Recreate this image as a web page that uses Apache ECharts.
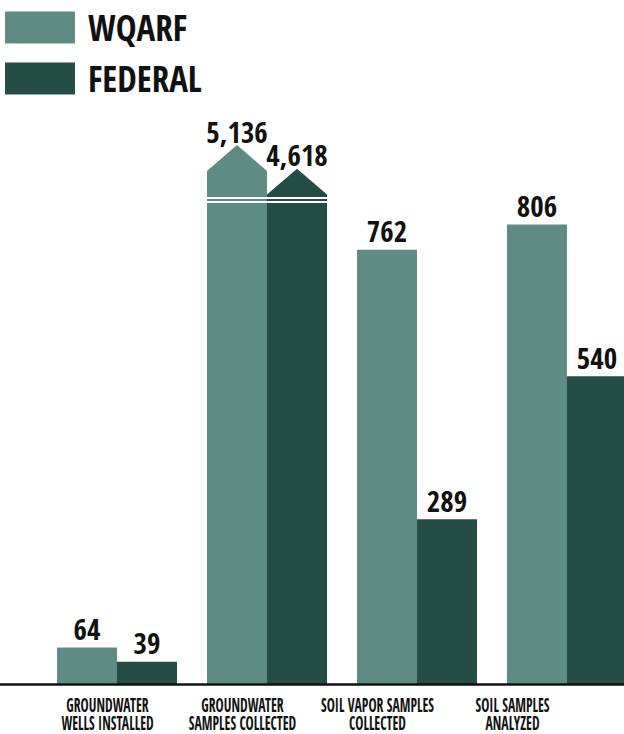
<!DOCTYPE html>
<html><head><meta charset="utf-8">
<script src="https://cdn.jsdelivr.net/npm/echarts@6/dist/echarts.min.js"></script>
<style>html,body{margin:0;padding:0;background:#fff}#chart{width:624px;height:734px}</style>
</head><body>
<div id="chart"></div>
<script>
// ---- data ----
const categories = [
  "GROUNDWATER\nWELLS INSTALLED",
  "GROUNDWATER\nSAMPLES COLLECTED",
  "SOIL VAPOR SAMPLES\nCOLLECTED",
  "SOIL SAMPLES\nANALYZED"
];
const seriesNames = ["WQARF", "FEDERAL"];
const wqarfValues = [64, 5136, 762, 806];
const federalValues = [39, 4618, 289, 540];

// axis break (values above BREAK_AT are drawn broken, upper part compressed)
const BREAK_AT = 844;
const BREAK_END = 4000;
const COMPRESS = 0.08;

// ---- style ----
const COLORS = ["#5E8B84", "#234D45"];
const FONT = '"Open Sans Condensed", "Roboto Condensed", sans-serif';
const TXT = "#111111";
const BAR_FRACTION = 0.4;
const TIP_RATIO = 0.43;
const LABEL_SCALE_X = 0.72;

function fmt(v) { return v.toLocaleString("en-US"); }

function renderBar(params, api) {
  const ci = api.value(0), v = api.value(1);
  const p0 = api.coord([ci, 0]);
  const band = api.size([1, 0])[0];
  const bw = band * BAR_FRACTION;
  const x = params.seriesIndex === 0 ? p0[0] - bw : p0[0];
  const color = COLORS[params.seriesIndex];
  const children = [];
  const lbl = { text: fmt(v), x: x + bw / 2, fill: TXT, font: 'bold 29px ' + FONT, align: 'center', verticalAlign: 'middle' };
  if (v <= BREAK_AT) {
    const top = api.coord([ci, v])[1];
    children.push({ type: 'rect', shape: { x: x, y: top, width: bw, height: p0[1] - top }, style: { fill: color } });
    children.push({ type: 'text', style: Object.assign({}, lbl, { y: top - 19 }) });
  } else {
    const lowTop = api.coord([ci, BREAK_AT])[1];
    children.push({ type: 'rect', shape: { x: x, y: lowTop, width: bw, height: p0[1] - lowTop }, style: { fill: color } });
    children.push({ type: 'rect', shape: { x: x, y: lowTop - 4, width: bw, height: 2 }, style: { fill: color } });
    const upBase = lowTop - 6;
    const h = p0[1] - api.coord([ci, (v - BREAK_END) * COMPRESS])[1];
    const peak = upBase - h;
    const shoulder = peak + bw * TIP_RATIO;
    children.push({ type: 'polygon', shape: { points: [[x, upBase], [x, shoulder], [x + bw / 2, peak], [x + bw, shoulder], [x + bw, upBase]] }, style: { fill: color } });
    children.push({ type: 'text', style: Object.assign({}, lbl, { y: peak - 14 }) });
  }
  return { type: 'group', children: children };
}

// category labels drawn condensed (horizontally scaled) under the label axis
function renderCatLabel(params, api) {
  const ci = api.value(0);
  const p = api.coord([ci, 0]);
  return {
    type: 'text', x: p[0], y: p[1] + 12, scaleX: LABEL_SCALE_X, scaleY: 1,
    style: { text: categories[ci], x: 0, y: 0, align: 'center', verticalAlign: 'top',
      fill: TXT, font: 'bold 19px ' + FONT, lineHeight: 18 }
  };
}

const chart = echarts.init(document.getElementById('chart'), null, { renderer: 'svg' });
const option = {
  animation: false,
  color: COLORS,
  legend: {
    orient: 'vertical', left: 5, top: 10, padding: 0,
    itemWidth: 70, itemHeight: 32, itemGap: 16,
    icon: 'rect',
    data: seriesNames,
    textStyle: { fontFamily: FONT, fontWeight: 'bold', fontSize: 35, color: TXT, padding: [0, 0, 0, 8] }
  },
  grid: [
    { left: 42, width: 600, top: 114, bottom: 50, outerBoundsMode: 'none', containLabel: false },
    { left: 40, width: 540, top: 114, bottom: 50, outerBoundsMode: 'none', containLabel: false }
  ],
  xAxis: [
    { type: 'category', gridIndex: 0, data: categories, axisLine: { show: false }, axisTick: { show: false }, axisLabel: { show: false } },
    { type: 'category', gridIndex: 1, data: categories, axisLine: { show: false }, axisTick: { show: false }, axisLabel: { show: false } }
  ],
  yAxis: [
    { type: 'value', gridIndex: 0, min: 0, max: 1000, show: false },
    { type: 'value', gridIndex: 1, min: 0, max: 1000, show: false }
  ],
  series: [
    { name: seriesNames[0], type: 'custom', xAxisIndex: 0, yAxisIndex: 0, renderItem: renderBar, clip: false,
      itemStyle: { color: COLORS[0] }, encode: { x: 0, y: 1 },
      data: wqarfValues.map((v, i) => [i, v]) },
    { name: seriesNames[1], type: 'custom', xAxisIndex: 0, yAxisIndex: 0, renderItem: renderBar, clip: false,
      itemStyle: { color: COLORS[1] }, encode: { x: 0, y: 1 },
      data: federalValues.map((v, i) => [i, v]) },
    { name: 'categoryLabels', type: 'custom', xAxisIndex: 1, yAxisIndex: 1, renderItem: renderCatLabel, clip: false,
      silent: true, encode: { x: 0, y: 1 },
      data: categories.map((c, i) => [i, 0]) }
  ]
};
chart.setOption(option);
const base = chart.convertToPixel({ gridIndex: 0 }, [0, 0]);
chart.setOption({ graphic: [{ type: 'line', z: 10, shape: { x1: 0, y1: base[1] + 0.5, x2: 624, y2: base[1] + 0.5 }, style: { stroke: TXT, lineWidth: 2.5 } }] });
</script></body></html>
